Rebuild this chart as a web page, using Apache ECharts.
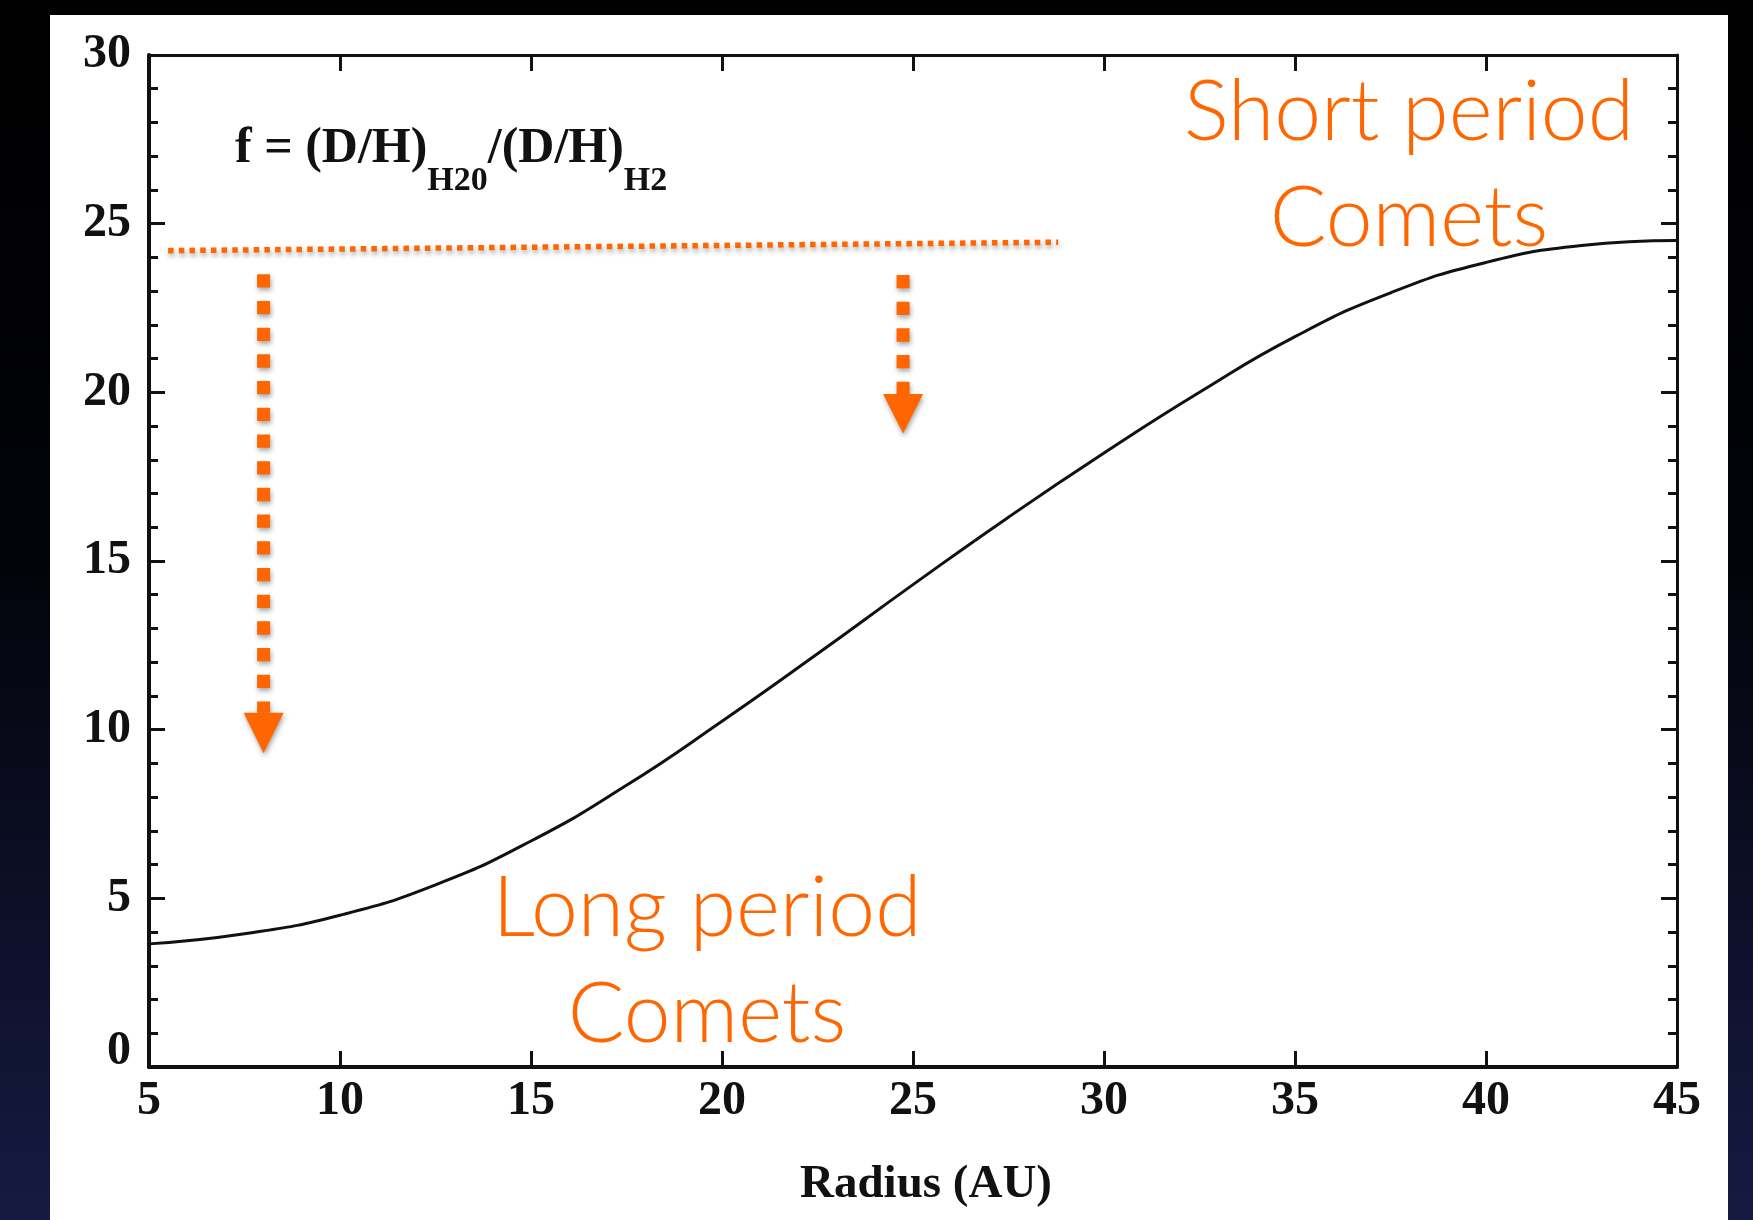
<!DOCTYPE html>
<html>
<head>
<meta charset="utf-8">
<script src="https://cdn.jsdelivr.net/npm/echarts@6/dist/echarts.min.js"></script>
<style>
html,body{margin:0;padding:0;background:#000;}
#c{width:1753px;height:1220px;}
</style>
</head>
<body>
<div id="c"></div>
<script>
// ---- data ----
const radius = [5, 7.5, 10, 12.5, 15, 17.5, 20, 22.5, 25, 27.5, 30, 32.5, 35, 37.5, 40, 42.5, 45];
const fRatio = [3.65, 3.95, 4.5, 5.4, 6.7, 8.35, 10.25, 12.25, 14.3, 16.3, 18.2, 20.0, 21.65, 22.95, 23.85, 24.35, 24.5];
const xTicks = [5, 10, 15, 20, 25, 30, 35, 40, 45];
const yTicks = [0, 5, 10, 15, 20, 25, 30];
const xAxisTitle = 'Radius (AU)';
// orange dotted reference line (start / end points)
const refLineX = [5.5, 28.8];
const refLineY = [24.2, 24.45];
// orange dotted arrows
const arrowX = [8.0, 24.74];
const arrowTop = [23.5, 23.48];
const arrowBase = [10.5, 19.95];
const arrowTip = [9.3, 18.78];
// annotation texts
const shortLabel = ['Short period', 'Comets'];
const longLabel = ['Long period', 'Comets'];

const ORANGE = '#FF6600';
const SERIF = '"Liberation Serif","Times New Roman",Times,serif';
const SANS = 'Lato,"Open Sans","Noto Sans",sans-serif';
const shadow = {shadowColor: 'rgba(0,0,0,0.35)', shadowBlur: 5, shadowOffsetX: 1, shadowOffsetY: 3};

const chart = echarts.init(document.getElementById('c'), null, {renderer: 'canvas'});

function axisBase(lineW) {
  return {
    type: 'value',
    axisLine: {show: true, onZero: false, lineStyle: {color: '#111', width: lineW}},
    splitLine: {show: false},
    axisTick: {show: true, inside: true, length: 16, lineStyle: {color: '#111', width: 3}}
  };
}

const option = {
  animation: false,
  backgroundColor: 'transparent',
  grid: {left: 149, top: 55, width: 1528, height: 1012, containLabel: false, outerBoundsMode: 'none'},
  graphic: [
    {type: 'rect', z: -20, silent: true, shape: {x: 0, y: 0, width: 1753, height: 1220},
      style: {fill: {type: 'linear', x: 0, y: 0, x2: 0, y2: 1, colorStops: [
        {offset: 0, color: '#000000'}, {offset: 0.45, color: '#020309'}, {offset: 1, color: '#161a42'}]}}},
    {type: 'rect', z: -19, silent: true, shape: {x: 50, y: 15, width: 1678, height: 1210}, style: {fill: '#ffffff'}},
    {type: 'text', z: 10, left: 235, top: 124, silent: true,
      style: {
        text: '{m|f = (D/H)}{s|H20}{m|/(D/H)}{s|H2}',
        rich: {
          m: {fontFamily: SERIF, fontWeight: 'bold', fontSize: 50, lineHeight: 56, verticalAlign: 'top', fill: '#111'},
          s: {fontFamily: SERIF, fontWeight: 'bold', fontSize: 34, lineHeight: 35, padding: [40, 0, 0, 0], verticalAlign: 'top', fill: '#111'}
        }
      }},
    {type: 'text', z: 10, silent: true, x: 1409, y: 166,
      style: {text: shortLabel.join('\n'), font: '300 84px ' + SANS, fill: ORANGE, align: 'center', verticalAlign: 'middle', lineHeight: 106}},
    {type: 'text', z: 10, silent: true, x: 707, y: 962,
      style: {text: longLabel.join('\n'), font: '300 84px ' + SANS, fill: ORANGE, align: 'center', verticalAlign: 'middle', lineHeight: 106}}
  ],
  xAxis: [
    Object.assign(axisBase(4), {
      position: 'bottom', min: xTicks[0], max: xTicks[xTicks.length - 1], interval: 5,
      axisLabel: {show: true, margin: 11, color: '#111', fontFamily: SERIF, fontWeight: 'bold', fontSize: 48, showMinLabel: true, showMaxLabel: true, hideOverlap: false},
      name: xAxisTitle, nameLocation: 'middle', nameGap: 94,
      nameTextStyle: {color: '#111', fontFamily: SERIF, fontWeight: 'bold', fontSize: 47, padding: [0, 0, 0, 26]}
    }),
    Object.assign(axisBase(3), {
      position: 'top', min: xTicks[0], max: xTicks[xTicks.length - 1], interval: 5,
      axisLabel: {show: false}
    })
  ],
  yAxis: [
    Object.assign(axisBase(4), {
      position: 'left', min: yTicks[0], max: yTicks[yTicks.length - 1], interval: 5,
      minorTick: {show: true, splitNumber: 5, length: 9, lineStyle: {color: '#111', width: 3}},
      axisLabel: {show: true, margin: 18, color: '#111', fontFamily: SERIF, fontWeight: 'bold', fontSize: 48, showMinLabel: true, showMaxLabel: true, hideOverlap: false,
        formatter: v => v === 0 ? '{z|0}' : String(v),
        rich: {z: {fontFamily: SERIF, fontWeight: 'bold', fontSize: 48, color: '#111', padding: [0, 0, 30, 0]}}}
    }),
    Object.assign(axisBase(3), {
      position: 'right', min: yTicks[0], max: yTicks[yTicks.length - 1], interval: 5,
      minorTick: {show: true, splitNumber: 5, length: 9, lineStyle: {color: '#111', width: 3}},
      axisLabel: {show: false}
    })
  ],
  series: [
    {
      name: 'f', type: 'line', xAxisIndex: 0, yAxisIndex: 0, z: 3,
      data: radius.map((r, i) => [r, fRatio[i]]),
      smooth: 0.5, showSymbol: false, symbol: 'none',
      lineStyle: {color: '#111', width: 3}
    },
    {
      name: 'ref', type: 'line', xAxisIndex: 0, yAxisIndex: 0, z: 4,
      data: refLineX.map((x, i) => [x, refLineY[i]]),
      showSymbol: false, symbol: 'none',
      lineStyle: Object.assign({color: ORANGE, width: 5.5, type: [5.5, 5.2], cap: 'butt'}, shadow)
    },
    ...arrowX.map((x, i) => ({
      name: 'arrow' + i, type: 'line', xAxisIndex: 0, yAxisIndex: 0, z: 4,
      data: [[x, arrowTop[i]], [x, arrowBase[i]]],
      showSymbol: false, symbol: 'none',
      lineStyle: Object.assign({color: ORANGE, width: 13, type: [13.3, 13.4], cap: 'butt'}, shadow)
    })),
    {
      name: 'heads', type: 'custom', xAxisIndex: 0, yAxisIndex: 0, z: 5,
      data: arrowX.map((x, i) => [x, arrowBase[i], arrowTip[i]]),
      encode: {x: 0, y: [1, 2]},
      renderItem: function (params, api) {
        const b = api.coord([api.value(0), api.value(1)]);
        const t = api.coord([api.value(0), api.value(2)]);
        const hw = 20;
        return {
          type: 'polygon',
          shape: {points: [[b[0] - hw, b[1]], [b[0] + hw, b[1]], [t[0], t[1]]]},
          style: Object.assign({fill: ORANGE}, shadow)
        };
      }
    }
  ]
};
chart.setOption(option);
</script>
</body>
</html>
